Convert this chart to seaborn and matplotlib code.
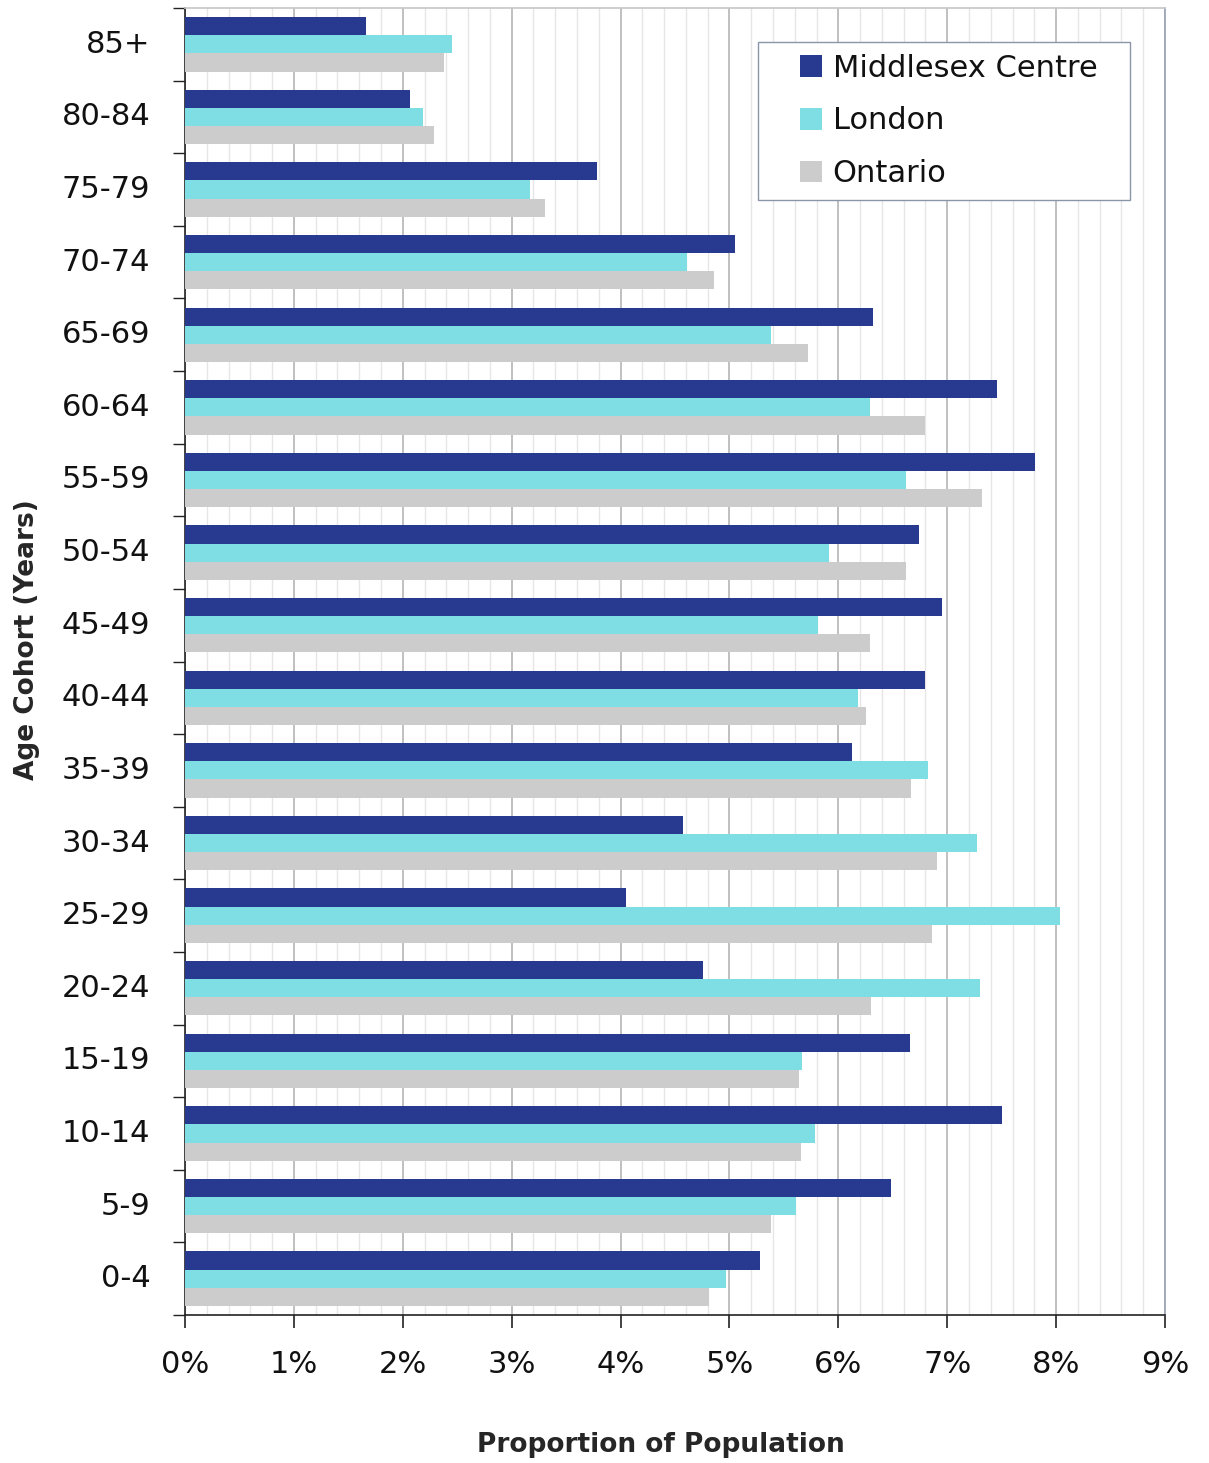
import matplotlib
matplotlib.use("Agg")
import matplotlib.pyplot as plt
import seaborn as sns
import pandas as pd
import numpy as np
from matplotlib.ticker import MultipleLocator, FixedLocator, FuncFormatter
from matplotlib.patches import Rectangle

age_groups = ["85+", "80-84", "75-79", "70-74", "65-69", "60-64", "55-59", "50-54",
              "45-49", "40-44", "35-39", "30-34", "25-29", "20-24", "15-19", "10-14",
              "5-9", "0-4"]
middlesex = [1.66, 2.07, 3.78, 5.05, 6.32, 7.46, 7.81, 6.74, 6.95, 6.80, 6.13, 4.57,
             4.05, 4.76, 6.66, 7.50, 6.48, 5.28]
london = [2.45, 2.19, 3.17, 4.61, 5.38, 6.29, 6.62, 5.91, 5.81, 6.18, 6.82, 7.27,
          8.04, 7.30, 5.67, 5.79, 5.61, 4.97]
ontario = [2.38, 2.29, 3.31, 4.86, 5.72, 6.80, 7.32, 6.62, 6.29, 6.25, 6.67, 6.91,
           6.86, 6.30, 5.64, 5.66, 5.38, 4.81]
series = ["Middlesex Centre", "London", "Ontario"]
colors = ["#273a8f", "#7fdde4", "#cccccc"]

df = pd.DataFrame({
    "Age": age_groups * 3,
    "Series": [series[0]] * 18 + [series[1]] * 18 + [series[2]] * 18,
    "Value": middlesex + london + ontario,
})

sns.set_theme(style="white")
plt.rcParams['font.family'] = ['DejaVu Sans']

fig = plt.figure(figsize=(12.09, 14.63), dpi=100)
ax = fig.add_axes([185/1209, 1 - 1315/1463, 980/1209, (1315 - 8)/1463])

sns.barplot(data=df, x="Value", y="Age", hue="Series", order=age_groups,
            hue_order=series, palette=colors, orient="h", width=0.75, gap=0,
            saturation=1, ax=ax, zorder=3, linewidth=0)

ax.set_xlim(0, 9)
ax.xaxis.set_major_locator(MultipleLocator(1))
ax.xaxis.set_minor_locator(MultipleLocator(0.2))
ax.xaxis.set_major_formatter(FuncFormatter(lambda v, p: f"{int(round(v))}%"))
ax.grid(which="major", axis="x", color="#b5b5b5", linewidth=1.2, zorder=0)
ax.grid(which="minor", axis="x", color="#e6e6e6", linewidth=1.0, zorder=0)
ax.set_axisbelow(True)

ax.yaxis.set_minor_locator(FixedLocator(np.arange(-0.5, len(age_groups), 1.0)))
ax.tick_params(axis="y", which="major", length=0, pad=25, labelsize=22, colors="#111111")
ax.tick_params(axis="y", which="minor", length=9, width=1, color="#222222", left=True)
ax.tick_params(axis="x", which="major", length=9, width=1.2, color="#222222",
               bottom=True, pad=16, labelsize=22, labelcolor="#111111")
ax.tick_params(axis="x", which="minor", length=0)
plt.setp(ax.get_yticklabels(), va="center")

for s in ["left", "bottom"]:
    ax.spines[s].set_color("#222222")
    ax.spines[s].set_linewidth(1.2)
ax.spines["top"].set_color("#c8c8c8")
ax.spines["right"].set_color("#9aa4b8")

ax.set_xlabel("Proportion of Population", fontsize=19, fontweight="bold")
ax.set_ylabel("Age Cohort (Years)", fontsize=19, fontweight="bold")
ax.xaxis.set_label_coords(0.486, -0.0895)
ax.yaxis.set_label_coords(-0.148, 0.5164)

# legend frame drawn separately (wide horizontal padding as in the reference)
frame = Rectangle((0.5847, 0.8531), 0.9643 - 0.5847, 0.974 - 0.8531,
                  transform=ax.transAxes, facecolor="white", edgecolor="#8a95aa",
                  linewidth=1.0, zorder=5)
ax.add_patch(frame)
leg = ax.legend(loc="upper left", bbox_to_anchor=(0.6276, 0.9651), fontsize=22,
                frameon=False, handlelength=0.72, handleheight=0.72, labelspacing=0.78,
                borderpad=0, handletextpad=0.35, borderaxespad=0)
leg.set_zorder(6)
for t in leg.get_texts():
    t.set_color("#111111")

fig.savefig("out.png", dpi=100)
